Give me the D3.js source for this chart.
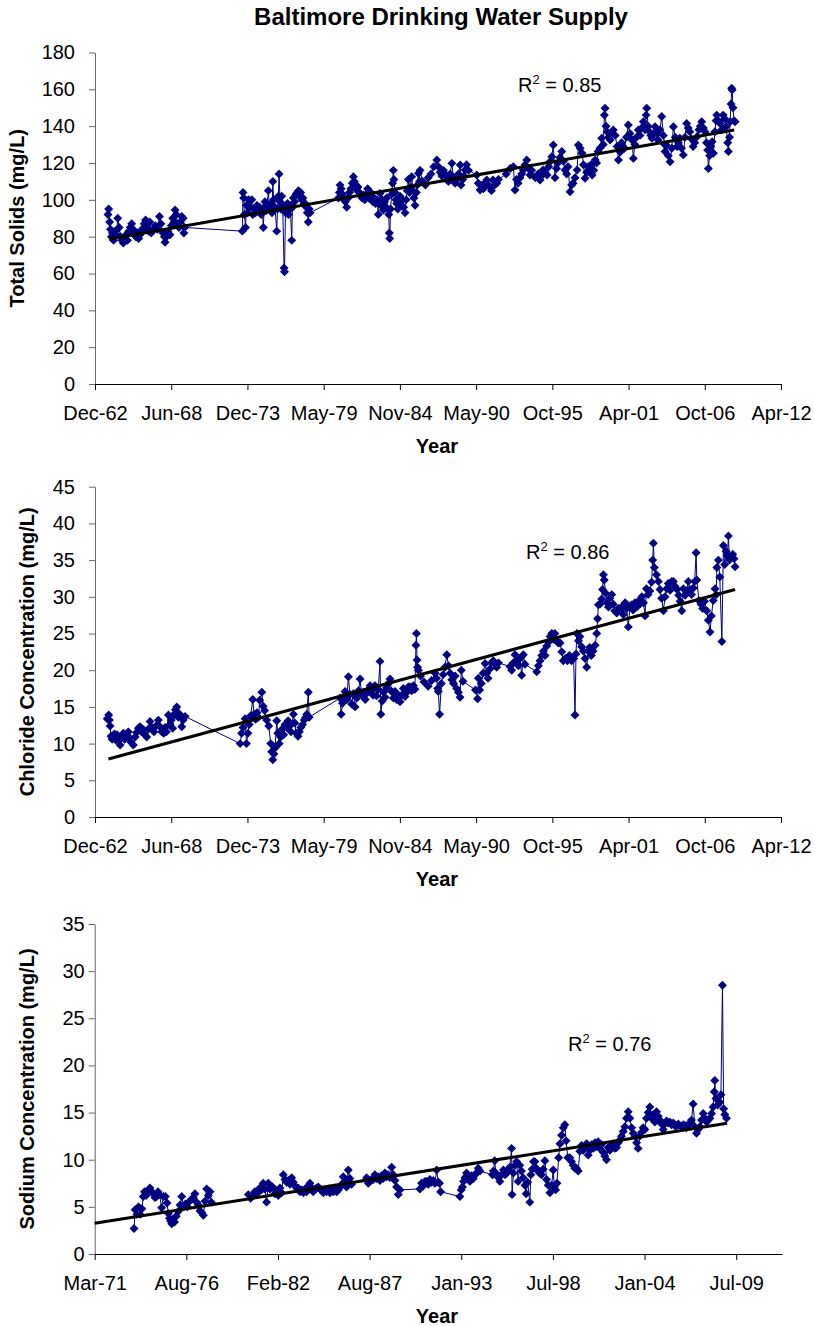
<!DOCTYPE html>
<html><head><meta charset="utf-8">
<script src="https://cdn.jsdelivr.net/npm/d3@7"></script>
<style>
body{margin:0;background:#fff}
svg text{font-family:"Liberation Sans",Arial,Helvetica,sans-serif;fill:#000}
</style>
</head><body>
<svg id="chart" width="814" height="1326"></svg>
<script>
// ---------------- DATA ----------------
const title = "Baltimore Drinking Water Supply";
const xAxisTitle = "Year";
const yTitles = ["Total Solids (mg/L)", "Chloride Concentration (mg/L)", "Sodium Concentration (mg/L)"];
const r2Values = ["0.85", "0.86", "0.76"];

// x tick positions as Excel serial dates (labels formatted "%b-%y")
const xTicksTop = [23000, 25000, 27000, 29000, 31000, 33000, 35000, 37000, 39000, 41000];
const xDomainTop = [23000, 41000];
const xTicksBottom = [26000, 28000, 30000, 32000, 34000, 36000, 38000, 40000];
const xDomainBottom = [26000, 41000];

const yTicksSolids = [0, 20, 40, 60, 80, 100, 120, 140, 160, 180];
const yTicksChloride = [0, 5, 10, 15, 20, 25, 30, 35, 40, 45];
const yTicksSodium = [0, 5, 10, 15, 20, 25, 30, 35];

// [decimal year, mg/L]
const solids = [
[1963.90,92],[1963.95,95],[1964.02,88],[1964.08,84],[1964.14,80],[1964.22,82],[1964.30,78],[1964.40,83],[1964.50,81],[1964.60,90],
[1964.70,85],[1964.80,80],[1964.90,78],[1965.00,76.5],[1965.10,79],[1965.20,81],[1965.30,78],[1965.40,83],[1965.50,85],[1965.60,87],
[1965.70,84],[1965.80,82],[1965.90,80],[1966.00,82],[1966.10,79],[1966.20,81],[1966.35,84],[1966.50,87],[1966.60,89],[1966.70,85],
[1966.80,83],[1966.90,88],[1967.00,82],[1967.15,84],[1967.30,86],[1967.45,84],[1967.60,91],[1967.70,87],[1967.85,82],[1967.95,80],
[1968.00,77],[1968.10,80],[1968.20,83],[1968.35,81],[1968.45,86],[1968.55,90],[1968.65,88],[1968.72,94.5],[1968.80,92],[1968.90,87],
[1969.00,85],[1969.10,88],[1969.20,91],[1969.30,90],[1969.35,82],[1969.40,85],
[1973.55,83],[1973.60,104],[1973.65,101],[1973.70,92],[1973.78,85],[1973.85,97],[1973.92,93],[1974.00,100],[1974.10,96],[1974.23,100],
[1974.30,92],[1974.40,95],[1974.50,93],[1974.60,97],[1974.70,94],[1974.80,96],[1974.90,92],[1975.00,94],[1975.06,85],[1975.12,96],
[1975.18,99],[1975.25,94],[1975.32,96],[1975.42,105],[1975.50,95],[1975.60,98],[1975.68,93],[1975.74,110],[1975.80,100],[1975.90,96],
[1976.02,83],[1976.08,95],[1976.14,102],[1976.19,114],[1976.26,99],[1976.32,95],[1976.38,102],[1976.45,97],[1976.55,63],[1976.58,61],
[1976.65,93],[1976.72,96],[1976.80,98],[1976.86,92],[1976.93,97],[1977.00,95],[1977.10,78],[1977.15,96],[1977.22,101],[1977.30,99],
[1977.40,103],[1977.50,104],[1977.58,105],[1977.66,102],[1977.74,104],[1977.82,100],[1977.90,101],[1978.00,98],[1978.06,98],[1978.15,96],
[1978.22,93],[1978.29,88],[1978.35,95],[1978.42,93],
[1980.45,101],[1980.52,104],[1980.57,108],[1980.65,106],[1980.75,103],[1980.85,100],[1980.95,99],[1981.05,96],[1981.15,101],[1981.25,104],
[1981.35,106],[1981.45,109],[1981.53,112.6],[1981.60,110],[1981.70,108],[1981.80,105],[1981.86,107],[1981.95,104],[1982.05,103],[1982.15,101],
[1982.24,102.6],[1982.35,100],[1982.45,103],[1982.55,106],[1982.65,101],[1982.73,104.4],[1982.82,102],[1982.92,99],[1983.02,101],[1983.12,98],
[1983.21,100],[1983.32,92],[1983.38,98],[1983.44,103.5],[1983.52,97],[1983.60,100],[1983.68,94.5],[1983.76,99],[1983.84,96],[1983.92,101],
[1984.00,95],[1984.07,92],[1984.11,82],[1984.14,79],[1984.20,95],[1984.28,103],[1984.34,109],[1984.40,116],[1984.44,111],[1984.52,104],
[1984.58,100],[1984.64,98],[1984.72,95],[1984.80,99],[1984.88,102],[1984.96,97],[1985.05,100],[1985.14,96],[1985.24,93],[1985.32,100],
[1985.40,105],[1985.48,111],[1985.56,104],[1985.64,107],[1985.72,112.6],[1985.80,105],[1985.88,101],[1985.96,97],[1986.05,104],[1986.12,108],
[1986.20,114.4],[1986.28,110],[1986.32,116],[1986.50,110],[1986.70,108],[1986.90,112],[1987.10,114],[1987.30,118],[1987.52,121.6],[1987.64,118],
[1987.76,115],[1987.88,113],[1988.00,116],[1988.12,114],[1988.24,112.6],[1988.36,110],[1988.48,114],[1988.60,119.8],[1988.72,112],[1988.84,109],
[1988.96,111],[1989.08,114],[1989.20,118.9],[1989.26,108],[1989.38,111],[1989.48,113],[1989.56,116.2],[1989.66,119],[1989.80,116],
[1990.39,113.5],[1990.50,109],[1990.63,105.3],[1990.75,108],[1990.87,106],[1990.99,109],[1991.11,110.8],[1991.23,108],[1991.35,107],[1991.45,105],
[1991.56,110.8],[1991.68,108],[1991.83,109],[1991.95,111],[1992.50,114],[1992.80,117],[1993.02,118],[1993.14,105.3],[1993.25,111],[1993.36,109],
[1993.50,112],[1993.62,114],[1993.74,116.2],[1993.86,119],[1993.98,121.6],[1994.10,117],[1994.22,113.5],[1994.34,116],[1994.60,112],[1994.80,114],
[1994.94,110.8],[1995.05,113],[1995.15,116.2],[1995.30,115],[1995.44,113.5],[1995.56,118],[1995.68,121],[1995.78,123.4],[1995.89,129.8],[1996.01,112],
[1996.12,117],[1996.23,120],[1996.36,123],[1996.50,126.2],[1996.62,121],[1996.73,116.2],[1996.85,114],[1996.95,118],[1997.09,104.4],[1997.20,108],
[1997.31,109],[1997.45,112],[1997.60,116.2],[1997.69,129.8],[1997.82,128],[1997.96,125.3],[1998.06,119],[1998.17,111.7],[1998.28,115],[1998.39,118],
[1998.50,116],[1998.60,119],[1998.68,113.5],[1998.80,116],[1998.90,121.6],[1999.00,120],[1999.11,126.2],[1999.24,128],[1999.37,133.4],[1999.48,130],
[1999.56,146],[1999.61,149.7],[1999.68,140],[1999.75,137],[1999.86,134],[1999.97,132.5],[2000.08,135],[2000.20,137.9],[2000.34,135],[2000.47,129],
[2000.57,121.6],[2000.70,126],[2000.80,131],[2000.90,129],[2001.00,128],[2001.14,134],[2001.28,140.6],[2001.40,136],[2001.55,132.5],[2001.64,122.5],
[2001.75,130],[2001.87,134],[2002.00,137.9],[2002.12,135],[2002.24,139],[2002.36,142.4],[2002.48,138],[2002.56,146],[2002.60,149.7],[2002.70,140],
[2002.80,137],[2002.90,135],[2002.98,133.4],[2003.10,136],[2003.20,139.7],[2003.32,136],[2003.42,132.5],[2003.55,138],[2003.68,145.2],[2003.80,135],
[2003.88,130],[2003.92,126.2],[2004.00,129.8],[2004.15,124],[2004.28,120.7],[2004.40,128],[2004.52,139.7],[2004.65,134],[2004.78,129],[2004.88,131],
[2004.98,133.4],[2005.10,128],[2005.23,124.4],[2005.35,134],[2005.47,141.5],[2005.58,139],[2005.70,137],[2005.82,133],[2005.93,128.9],[2006.05,131],
[2006.21,134.3],[2006.35,138],[2006.45,140],[2006.55,142.4],[2006.67,139],[2006.79,137],[2006.90,131],[2006.98,127],[2007.03,117],[2007.12,124],
[2007.20,129],[2007.30,131.6],[2007.39,125.3],[2007.50,137],[2007.58,143],[2007.63,146],[2007.75,143],[2007.87,141.5],[2007.98,138],[2008.09,146],
[2008.20,144],[2008.30,139.7],[2008.42,131],[2008.47,126.2],[2008.55,134],[2008.59,142.4],[2008.66,152],[2008.70,160.6],[2008.74,159.7],[2008.80,150],
[2008.87,143],[2008.95,142.4]
];

const chloride = [
[1963.85,13.4],[1963.90,13.3],[1963.95,13.9],[1964.00,13.2],[1964.05,12.4],[1964.12,11.0],[1964.20,10.6],[1964.28,10.9],[1964.36,11.3],[1964.45,10.5],
[1964.55,11.2],[1964.65,10.4],[1964.77,9.8],[1964.90,10.8],[1965.00,11.4],[1965.10,10.6],[1965.20,11.2],[1965.36,11.6],[1965.45,10.8],[1965.55,10.2],
[1965.72,9.8],[1965.85,10.9],[1965.95,11.5],[1966.08,12.1],[1966.20,12.3],[1966.30,11.6],[1966.45,11.9],[1966.55,11.2],[1966.68,10.9],[1966.80,12.0],
[1966.92,13.0],[1967.05,12.2],[1967.20,11.6],[1967.35,12.4],[1967.52,13.2],[1967.64,12.3],[1967.76,11.6],[1967.90,11.4],[1968.00,12.2],[1968.10,11.6],
[1968.24,13.9],[1968.35,12.6],[1968.45,13.2],[1968.55,12.1],[1968.65,14.0],[1968.75,14.6],[1968.84,15.0],[1968.95,13.6],[1969.05,14.0],[1969.20,12.3],
[1969.30,13.2],[1969.44,13.7],
[1973.39,10.0],[1973.50,11.4],[1973.60,12.2],[1973.75,13.4],[1973.85,10.0],[1973.95,11.4],[1974.05,12.6],[1974.15,13.8],[1974.30,16.0],[1974.40,14.0],
[1974.50,13.3],[1974.60,14.2],[1974.70,13.6],[1974.80,15.9],[1974.95,17.0],[1975.05,15.1],[1975.15,14.5],[1975.30,13.2],[1975.45,12.4],[1975.59,10.0],
[1975.66,8.9],[1975.74,7.8],[1975.82,8.6],[1975.90,9.4],[1976.02,13.1],[1976.10,11.4],[1976.20,10.0],[1976.30,10.9],[1976.42,12.0],[1976.52,11.2],
[1976.62,12.6],[1976.74,12.2],[1976.84,13.1],[1976.95,12.4],[1977.05,11.6],[1977.22,14.0],[1977.32,12.8],[1977.42,11.4],[1977.55,11.0],[1977.65,11.6],
[1977.75,12.2],[1977.88,12.6],[1978.00,13.2],[1978.10,13.6],[1978.18,14.0],[1978.29,17.0],[1978.35,13.6],
[1980.57,16.2],[1980.65,14.0],[1980.75,15.5],[1980.85,16.4],[1980.93,17.1],[1981.05,16.0],[1981.17,19.1],[1981.28,16.7],[1981.40,15.4],[1981.52,16.8],
[1981.65,15.0],[1981.78,16.2],[1981.90,17.2],[1982.01,18.8],[1982.12,16.7],[1982.25,17.0],[1982.38,16.0],[1982.50,16.9],[1982.62,17.4],[1982.73,17.9],
[1982.85,17.2],[1982.95,16.6],[1983.08,17.9],[1983.20,16.5],[1983.32,17.4],[1983.44,21.2],[1983.50,14.0],[1983.60,15.8],[1983.70,17.0],[1983.80,16.3],
[1983.92,17.6],[1984.04,18.2],[1984.16,18.8],[1984.28,17.1],[1984.40,16.2],[1984.52,17.1],[1984.64,16.0],[1984.76,16.6],[1984.88,15.7],[1985.00,16.6],
[1985.12,17.5],[1985.24,16.4],[1985.36,17.0],[1985.48,17.7],[1985.60,17.7],[1985.72,17.2],[1985.84,17.9],[1985.95,17.4],[1986.02,23.4],[1986.06,25.0],
[1986.10,21.4],[1986.14,20.4],[1986.20,20.0],[1986.35,19.2],[1986.60,18.4],[1986.90,17.8],[1987.15,18.6],[1987.40,19.6],[1987.50,18.9],[1987.58,17.5],
[1987.63,17.1],[1987.72,14.0],[1987.85,18.2],[1987.98,19.4],[1988.10,20.4],[1988.24,22.1],[1988.36,20.6],[1988.48,19.6],[1988.60,18.7],[1988.72,18.2],
[1988.84,19.2],[1988.95,17.5],[1989.07,17.0],[1989.19,16.3],[1989.28,20.0],[1989.40,18.5],[1990.30,17.3],[1990.45,16.1],[1990.51,18.9],[1990.60,17.3],
[1990.72,18.2],[1990.85,19.6],[1990.99,20.9],[1991.10,19.6],[1991.20,18.9],[1991.35,20.2],[1991.45,21.0],[1991.58,21.3],[1991.70,20.9],[1991.82,20.4],
[1991.95,21.0],[1992.78,20.5],[1992.90,20.0],[1993.02,21.0],[1993.14,22.1],[1993.25,21.3],[1993.38,20.6],[1993.50,21.6],[1993.62,19.3],[1993.74,22.1],
[1993.85,20.8],[1994.70,19.8],[1994.82,20.6],[1994.94,21.3],[1995.06,22.0],[1995.18,22.6],[1995.30,22.0],[1995.42,23.3],[1995.54,23.8],[1995.66,24.6],
[1995.78,25.0],[1995.90,24.2],[1996.00,25.0],[1996.12,24.0],[1996.25,23.7],[1996.38,23.7],[1996.50,22.5],[1996.61,21.3],[1996.75,21.6],[1996.90,21.3],
[1997.05,22.0],[1997.20,21.3],[1997.35,21.6],[1997.45,13.9],[1997.52,22.2],[1997.58,25.0],[1997.70,24.0],[1997.80,24.6],[1997.92,23.2],[1998.05,22.6],
[1998.17,21.6],[1998.29,20.4],[1998.40,22.6],[1998.50,23.1],[1998.62,22.0],[1998.75,22.6],[1998.90,23.4],[1999.01,25.0],[1999.07,27.0],[1999.13,28.9],
[1999.25,29.0],[1999.37,29.7],[1999.43,31.0],[1999.49,33.0],[1999.55,32.3],[1999.65,30.5],[1999.75,29.2],[1999.85,28.6],[1999.95,29.8],[2000.09,30.3],
[2000.20,29.0],[2000.30,28.1],[2000.45,27.8],[2000.57,28.4],[2000.69,28.1],[2000.80,28.6],[2000.92,27.6],[2001.05,29.2],[2001.16,28.4],[2001.28,25.9],
[2001.38,28.5],[2001.50,28.9],[2001.62,28.2],[2001.75,29.2],[2001.88,28.6],[2002.00,29.4],[2002.12,29.0],[2002.25,30.0],[2002.37,29.2],[2002.48,27.4],
[2002.58,31.1],[2002.70,30.3],[2002.82,30.8],[2002.95,32.0],[2003.03,35.0],[2003.08,37.3],[2003.15,34.0],[2003.30,33.0],[2003.44,32.1],[2003.55,31.0],
[2003.67,29.8],[2003.80,28.1],[2003.92,30.0],[2004.04,31.1],[2004.15,31.8],[2004.28,30.9],[2004.40,32.1],[2004.52,32.1],[2004.65,31.4],[2004.78,31.0],
[2004.90,30.2],[2005.00,29.4],[2005.12,28.1],[2005.24,31.1],[2005.36,30.2],[2005.47,30.8],[2005.59,32.1],[2005.70,31.0],[2005.82,30.3],[2005.95,31.2],
[2006.05,32.1],[2006.15,36.0],[2006.20,32.3],[2006.35,29.5],[2006.50,29.0],[2006.62,28.4],[2006.75,29.4],[2006.91,28.1],[2007.03,26.8],[2007.15,25.2],
[2007.25,27.4],[2007.38,29.5],[2007.51,31.1],[2007.60,30.3],[2007.64,34.0],[2007.75,35.0],[2007.85,32.7],[2008.00,23.9],[2008.11,37.0],[2008.20,34.4],
[2008.30,36.2],[2008.40,35.6],[2008.47,38.3],[2008.55,35.0],[2008.65,35.4],[2008.78,35.8],[2008.88,35.2],[2008.95,34.1]
];

// null value = break in the line (no samples)
const sodium = [
[1973.53,2.7],[1973.60,4.7],[1973.70,4.2],[1973.80,5.0],[1973.90,4.2],[1974.00,4.8],[1974.08,6.1],[1974.16,6.6],[1974.25,6.2],[1974.35,6.7],
[1974.48,7.0],[1974.58,6.6],[1974.68,6.4],[1974.78,6.0],[1974.88,6.1],[1974.96,6.6],[1975.06,6.3],[1975.18,4.9],[1975.28,6.1],[1975.40,6.1],
[1975.50,5.4],[1975.58,4.3],[1975.65,3.8],[1975.72,3.5],[1975.78,3.2],[1975.85,3.7],[1975.95,3.4],[1976.05,4.0],[1976.17,4.5],[1976.28,5.2],
[1976.38,6.1],[1976.48,5.0],[1976.60,5.3],[1976.72,5.0],[1976.85,5.6],[1976.97,5.8],[1977.07,6.0],[1977.17,6.4],[1977.27,5.5],[1977.37,5.2],
[1977.47,4.6],[1977.57,4.4],[1977.67,4.1],[1977.77,5.6],[1977.87,6.9],[1977.97,6.2],[1978.07,6.6],[1978.15,5.5],
[1979.20,null],
[1980.36,6.3],[1980.50,5.9],[1980.62,6.2],[1980.75,6.6],[1980.88,6.4],[1981.05,7.0],[1981.15,6.8],[1981.25,7.5],[1981.35,6.9],[1981.45,5.5],
[1981.55,7.5],[1981.65,6.9],[1981.75,7.2],[1981.85,7.0],[1981.95,6.4],[1982.05,6.7],[1982.15,6.2],[1982.25,7.0],[1982.35,6.5],[1982.45,8.4],
[1982.55,7.9],[1982.65,7.6],[1982.75,7.8],[1982.85,7.4],[1982.95,8.1],[1983.05,7.6],[1983.15,7.2],[1983.25,7.0],[1983.34,7.0],[1983.45,6.6],
[1983.55,6.8],[1983.65,6.5],[1983.75,6.9],[1983.84,6.6],[1983.94,7.2],[1984.04,7.5],[1984.14,7.0],[1984.24,6.6],[1984.34,6.9],[1984.44,7.0],
[1984.54,7.1],[1984.64,6.9],[1984.74,6.8],[1984.84,6.5],[1984.94,6.8],[1985.04,6.6],[1985.14,6.9],[1985.24,6.5],[1985.34,6.7],[1985.44,6.6],
[1985.54,7.0],[1985.64,6.6],[1985.74,6.8],[1985.84,7.1],[1985.94,7.4],[1986.03,8.2],[1986.13,7.6],[1986.23,7.1],[1986.33,8.9],[1986.43,8.0],
[1986.53,7.4],[1987.43,8.1],[1987.53,7.5],[1987.63,7.7],[1987.72,7.9],[1987.82,7.9],[1987.92,8.4],[1988.02,8.0],[1988.12,8.2],[1988.22,7.8],
[1988.32,8.3],[1988.42,8.0],[1988.52,8.6],[1988.62,8.2],[1988.72,8.4],[1988.82,8.1],[1988.92,9.2],[1989.02,8.4],[1989.12,7.8],[1989.22,7.1],
[1989.32,6.3],[1989.42,6.8],[1990.61,6.9],[1990.71,7.5],[1990.81,7.2],[1990.91,7.7],[1991.01,7.7],[1991.11,7.4],[1991.21,7.9],[1991.31,7.6],
[1991.41,7.8],[1991.51,7.5],[1991.61,8.9],[1991.71,7.6],[1991.78,7.5],[1991.85,6.6],[1993.00,6.1],[1993.08,6.8],[1993.15,7.1],[1993.22,7.7],
[1993.30,8.1],[1993.40,8.6],[1993.50,8.0],[1993.60,7.7],[1993.70,8.3],[1993.80,8.0],[1993.90,8.4],[1994.00,8.6],[1994.10,9.1],[1994.20,8.8],
[1994.95,8.4],[1995.00,8.8],[1995.08,9.9],[1995.15,8.6],[1995.25,8.2],[1995.39,7.7],[1995.50,8.4],[1995.60,8.9],[1995.70,8.4],[1995.80,8.6],
[1995.89,8.8],[1995.98,9.2],[1996.09,11.2],[1996.12,6.3],[1996.20,8.6],[1996.30,9.4],[1996.39,9.8],[1996.48,7.7],[1996.58,9.4],[1996.68,8.8],
[1996.78,8.1],[1996.89,7.3],[1996.96,6.4],[1997.05,7.6],[1997.18,5.5],[1997.24,8.4],[1997.32,9.0],[1997.40,9.8],[1997.48,9.8],[1997.56,9.1],
[1997.66,8.8],[1997.76,8.6],[1997.88,8.4],[1997.98,9.0],[1998.08,9.9],[1998.18,7.9],[1998.28,7.3],[1998.38,6.5],[1998.48,7.3],[1998.58,8.9],
[1998.64,7.1],[1998.72,6.8],[1998.80,7.5],[1998.90,10.2],[1998.98,11.7],[1999.08,12.6],[1999.18,13.4],[1999.27,13.7],[1999.35,12.0],[1999.45,10.2],
[1999.57,10.2],[1999.67,9.8],[1999.77,9.4],[1999.87,9.1],[1999.97,9.1],[2000.07,8.8],[2000.17,10.9],[2000.27,11.5],[2000.37,11.0],[2000.47,11.4],
[2000.57,11.7],[2000.67,10.5],[2000.77,11.0],[2000.87,11.6],[2000.97,11.2],[2001.07,11.8],[2001.17,11.4],[2001.26,11.9],[2001.36,11.2],[2001.46,11.6],
[2001.56,10.8],[2001.66,10.4],[2001.76,10.0],[2001.86,11.3],[2001.96,11.0],[2002.06,11.5],[2002.16,11.7],[2002.26,11.2],[2002.36,11.3],[2002.46,11.8],
[2002.56,12.1],[2002.66,12.5],[2002.76,13.0],[2002.86,13.5],[2002.96,14.4],[2003.06,15.1],[2003.16,14.4],[2003.26,13.4],[2003.36,12.8],[2003.46,12.5],
[2003.56,11.8],[2003.65,11.2],[2003.75,12.5],[2003.85,12.9],[2003.95,13.4],[2004.05,13.2],[2004.15,14.4],[2004.25,15.0],[2004.35,15.6],[2004.45,14.4],
[2004.55,14.8],[2004.65,14.0],[2004.75,15.1],[2004.85,14.6],[2004.95,14.2],[2005.05,13.8],[2005.15,13.2],[2005.25,13.8],[2005.35,14.1],[2005.45,13.9],
[2005.55,14.0],[2005.65,13.7],[2005.75,13.9],[2005.85,13.6],[2005.95,13.6],[2006.05,13.8],[2006.15,13.6],[2006.25,13.5],[2006.35,13.7],[2006.45,13.6],
[2006.54,13.4],[2006.64,13.7],[2006.74,13.9],[2006.84,14.2],[2006.94,15.9],[2007.04,13.5],[2007.14,12.8],[2007.24,13.2],[2007.34,13.5],[2007.44,14.2],
[2007.54,14.9],[2007.64,14.4],[2007.74,14.0],[2007.84,14.2],[2007.94,14.4],[2008.04,14.9],[2008.13,15.6],[2008.20,17.2],[2008.23,18.4],[2008.30,16.5],
[2008.40,15.8],[2008.53,16.1],[2008.60,16.9],[2008.69,28.5],[2008.76,15.4],[2008.83,14.8],[2008.93,14.4]
];

// linear trend lines: [decimal year, value] endpoints
const trendSolids = [[1964.00, 78.7], [2008.88, 137.9]];
const trendChloride = [[1963.93, 7.9], [2008.95, 31.0]];
const trendSodium = [[1971.18, 3.26], [2008.97, 13.86]];

// ---------------- LAYOUT ----------------
const panels = [
  {data: solids, trend: trendSolids, yTicks: yTicksSolids, yDom: [0, 180], xTicks: xTicksTop, xDom: xDomainTop,
   left: 95, right: 781, top: 52.5, bottom: 384, yTitle: yTitles[0], yTitleX: 24, yPad: 14, r2: r2Values[0], r2x: 518, r2y: 92},
  {data: chloride, trend: trendChloride, yTicks: yTicksChloride, yDom: [0, 45], xTicks: xTicksTop, xDom: xDomainTop,
   left: 95, right: 781, top: 486.7, bottom: 817, yTitle: yTitles[1], yTitleX: 33.5, yPad: 14, r2: r2Values[1], r2x: 526, r2y: 559},
  {data: sodium, trend: trendSodium, yTicks: yTicksSodium, yDom: [0, 35], xTicks: xTicksBottom, xDom: xDomainBottom,
   left: 94.7, right: 782, top: 924, bottom: 1254, yTitle: yTitles[2], yTitleX: 33.5, yPad: 4, r2: r2Values[2], r2x: 568, r2y: 1051}
];

const NAVY = "#000080";
const svg = d3.select("#chart");
const serialOf = y => 25569 + (y - 1970) * 365.25;          // decimal year -> Excel serial
const dateOf = s => new Date(Date.UTC(1899, 11, 30) + s * 864e5);
const fmt = d3.utcFormat("%b-%y");

svg.append("text").attr("x", 441).attr("y", 25).attr("text-anchor", "middle")
  .style("font-size", "24px").style("font-weight", "bold").text(title);

panels.forEach(p => {
  const x = d3.scaleLinear().domain(p.xDom).range([p.left, p.right]);
  const y = d3.scaleLinear().domain(p.yDom).range([p.bottom, p.top]);
  const g = svg.append("g");

  // y axis
  const ya = g.append("g").attr("transform", `translate(${p.left},0)`)
    .call(d3.axisLeft(y).tickValues(p.yTicks).tickSize(6).tickSizeOuter(0).tickPadding(p.yPad));
  ya.select(".domain").attr("stroke", "#666");
  ya.selectAll(".tick line").attr("stroke", "#666");
  ya.selectAll("text").style("font-size", "20px").attr("fill", "#000");

  // x axis
  const xa = g.append("g").attr("transform", `translate(0,${p.bottom})`)
    .call(d3.axisBottom(x).tickValues(p.xTicks).tickSize(6).tickSizeOuter(0).tickPadding(15.5)
      .tickFormat(s => fmt(dateOf(s))));
  xa.select(".domain").attr("stroke", "#000");
  xa.selectAll(".tick line").attr("stroke", "#000");
  xa.selectAll("text").style("font-size", "20px").attr("fill", "#000");

  // axis titles
  g.append("text").attr("x", 437).attr("y", p.bottom + 69).attr("text-anchor", "middle")
    .style("font-size", "20px").style("font-weight", "bold").text(xAxisTitle);
  g.append("text").attr("transform", `translate(${p.yTitleX},${(p.top + p.bottom) / 2}) rotate(-90)`)
    .attr("text-anchor", "middle").style("font-size", "20px").style("font-weight", "bold").text(p.yTitle);

  // series line
  const line = d3.line().defined(d => d[1] != null)
    .x(d => x(serialOf(d[0]))).y(d => y(d[1]));
  g.append("path").datum(p.data).attr("d", line)
    .attr("fill", "none").attr("stroke", NAVY).attr("stroke-width", 1);

  // markers
  const sym = d3.symbol(d3.symbolSquare, 40);
  g.selectAll("path.pt").data(p.data.filter(d => d[1] != null)).join("path")
    .attr("class", "pt").attr("d", sym)
    .attr("transform", d => `translate(${x(serialOf(d[0]))},${y(d[1])}) rotate(45)`)
    .attr("fill", NAVY);

  // trend line
  g.append("path").datum(p.trend).attr("d", d3.line().x(d => x(serialOf(d[0]))).y(d => y(d[1])))
    .attr("stroke", "#000").attr("stroke-width", 3).attr("fill", "none");

  // R^2 label
  const t = g.append("text").attr("x", p.r2x).attr("y", p.r2y).style("font-size", "20px");
  t.append("tspan").text("R");
  t.append("tspan").attr("dy", -8).style("font-size", "13px").text("2");
  t.append("tspan").attr("dy", 8).text(" = " + p.r2);
});
</script>
</body></html>
